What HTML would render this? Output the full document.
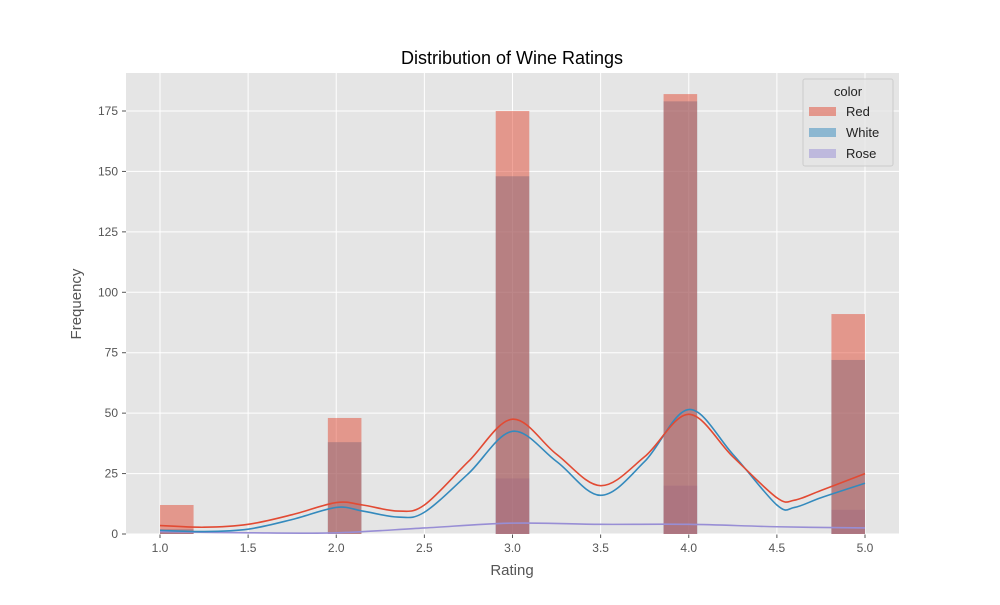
<!DOCTYPE html>
<html><head><meta charset="utf-8"><style>
body{margin:0;background:#fff}
text{font-family:"Liberation Sans",sans-serif}
</style></head><body>
<svg id="c" width="1000" height="600" xmlns="http://www.w3.org/2000/svg"></svg>
<script>
const categories=[1,2,3,4,5];
const redCounts=[12,48,175,182,91];
const whiteCounts=[2,38,148,179,72];
const roseCounts=[1,0,23,20,10];
const kdeX=[1.0,1.25,1.5,1.75,2.0,2.15,2.35,2.5,2.75,3.0,3.25,3.5,3.75,4.0,4.25,4.5,4.6,4.75,5.0];
const kdeRed=[3.5,2.8,4,8,13,12,9.5,12,30,47.5,33,20,32,49.5,32,15,14,18,25];
const kdeWhite=[1.5,1,2,6,11,9.5,7,9,25,42.5,30,16,30,51.5,33,12,11,15,21];
const roseX=[1.0,1.5,2.0,2.5,3.0,3.5,4.0,4.5,5.0];
const kdeRose=[1,0.5,0.5,2.5,4.5,4,4,3,2.5];
const xTicks=[1.0,1.5,2.0,2.5,3.0,3.5,4.0,4.5,5.0];
const yTicks=[0,25,50,75,100,125,150,175];
const L=126,R=899,T=73,B=534;
const sx=v=>160+(v-1)*176.25, sy=v=>B-v*(423/175);
const NS="http://www.w3.org/2000/svg",svg=document.getElementById('c');
function el(t,a,p){const e=document.createElementNS(NS,t);for(const k in a)e.setAttribute(k,a[k]);(p||svg).appendChild(e);return e;}
let bg=el('rect',{x:L,y:T,width:R-L,height:B-T,fill:'#e5e5e5'});

xTicks.forEach(v=>{el('line',{x1:sx(v),x2:sx(v),y1:T,y2:B,stroke:'#fff','stroke-width':1});
 el('line',{x1:sx(v),x2:sx(v),y1:B,y2:B+4,stroke:'#555'});
 const t=el('text',{x:sx(v),y:B+18,'text-anchor':'middle','font-size':12,fill:'#555'});t.textContent=v.toFixed(1);
 });
yTicks.forEach(v=>{el('line',{x1:L,x2:R,y1:sy(v),y2:sy(v),stroke:'#fff','stroke-width':1});
 el('line',{x1:L-4,x2:L,y1:sy(v),y2:sy(v),stroke:'#555'});
 const t=el('text',{x:L-8,y:sy(v)+4,'text-anchor':'end','font-size':12,fill:'#555'});t.textContent=v;
 });
const bw=4/21;
function bars(counts,col,name){counts.forEach((c,i)=>{const v=categories[i];
 const idx=Math.min(Math.floor((v-1)/bw+1e-9),20);const x0=1+idx*bw;
 const r=el('rect',{x:sx(x0),y:sy(c),width:bw*176.25,height:B-sy(c),fill:col,'fill-opacity':0.5});
 });}
bars(roseCounts,'#988ED5','rose');bars(whiteCounts,'#348ABD','white');bars(redCounts,'#E24A33','red');
function curve(xs,ys,col,name){const p=xs.map((x,i)=>[sx(x),sy(ys[i])]);let d='M'+p[0];
 for(let i=0;i<p.length-1;i++){const p0=p[i-1]||p[i],p1=p[i],p2=p[i+1],p3=p[i+2]||p2;
  d+=' C'+(p1[0]+(p2[0]-p0[0])/6)+','+(p1[1]+(p2[1]-p0[1])/6)+' '+(p2[0]-(p3[0]-p1[0])/6)+','+(p2[1]-(p3[1]-p1[1])/6)+' '+p2;}
 const e=el('path',{d:d,fill:'none',stroke:col,'stroke-width':1.6});
 }
curve(roseX,kdeRose,'#988ED5','rose');curve(kdeX,kdeWhite,'#348ABD','white');curve(kdeX,kdeRed,'#E24A33','red');
let t=el('text',{x:512,y:64,'text-anchor':'middle','font-size':18,fill:'#000'});t.textContent='Distribution of Wine Ratings';

t=el('text',{x:512,y:575,'text-anchor':'middle','font-size':15,fill:'#555'});t.textContent='Rating';

t=el('text',{x:81,y:304,'text-anchor':'middle','font-size':15,fill:'#555',transform:'rotate(-90 81 304)'});t.textContent='Frequency';

const lg=el('g',{});
el('rect',{x:803,y:79,width:90,height:87,fill:'#e5e5e5','fill-opacity':0.8,stroke:'#ccc',rx:2},lg);
t=el('text',{x:848,y:96,'text-anchor':'middle','font-size':13,fill:'#222'},lg);t.textContent='color';
[['Red','#E24A33'],['White','#348ABD'],['Rose','#988ED5']].forEach((s,i)=>{const g=el('g',{},lg);
 
 el('rect',{x:809,y:107+i*21,width:27,height:9,fill:s[1],'fill-opacity':0.5},g);
 const tt=el('text',{x:846,y:116+i*21,'font-size':13,fill:'#222'},g);tt.textContent=s[0];});
</script>
</body></html>
